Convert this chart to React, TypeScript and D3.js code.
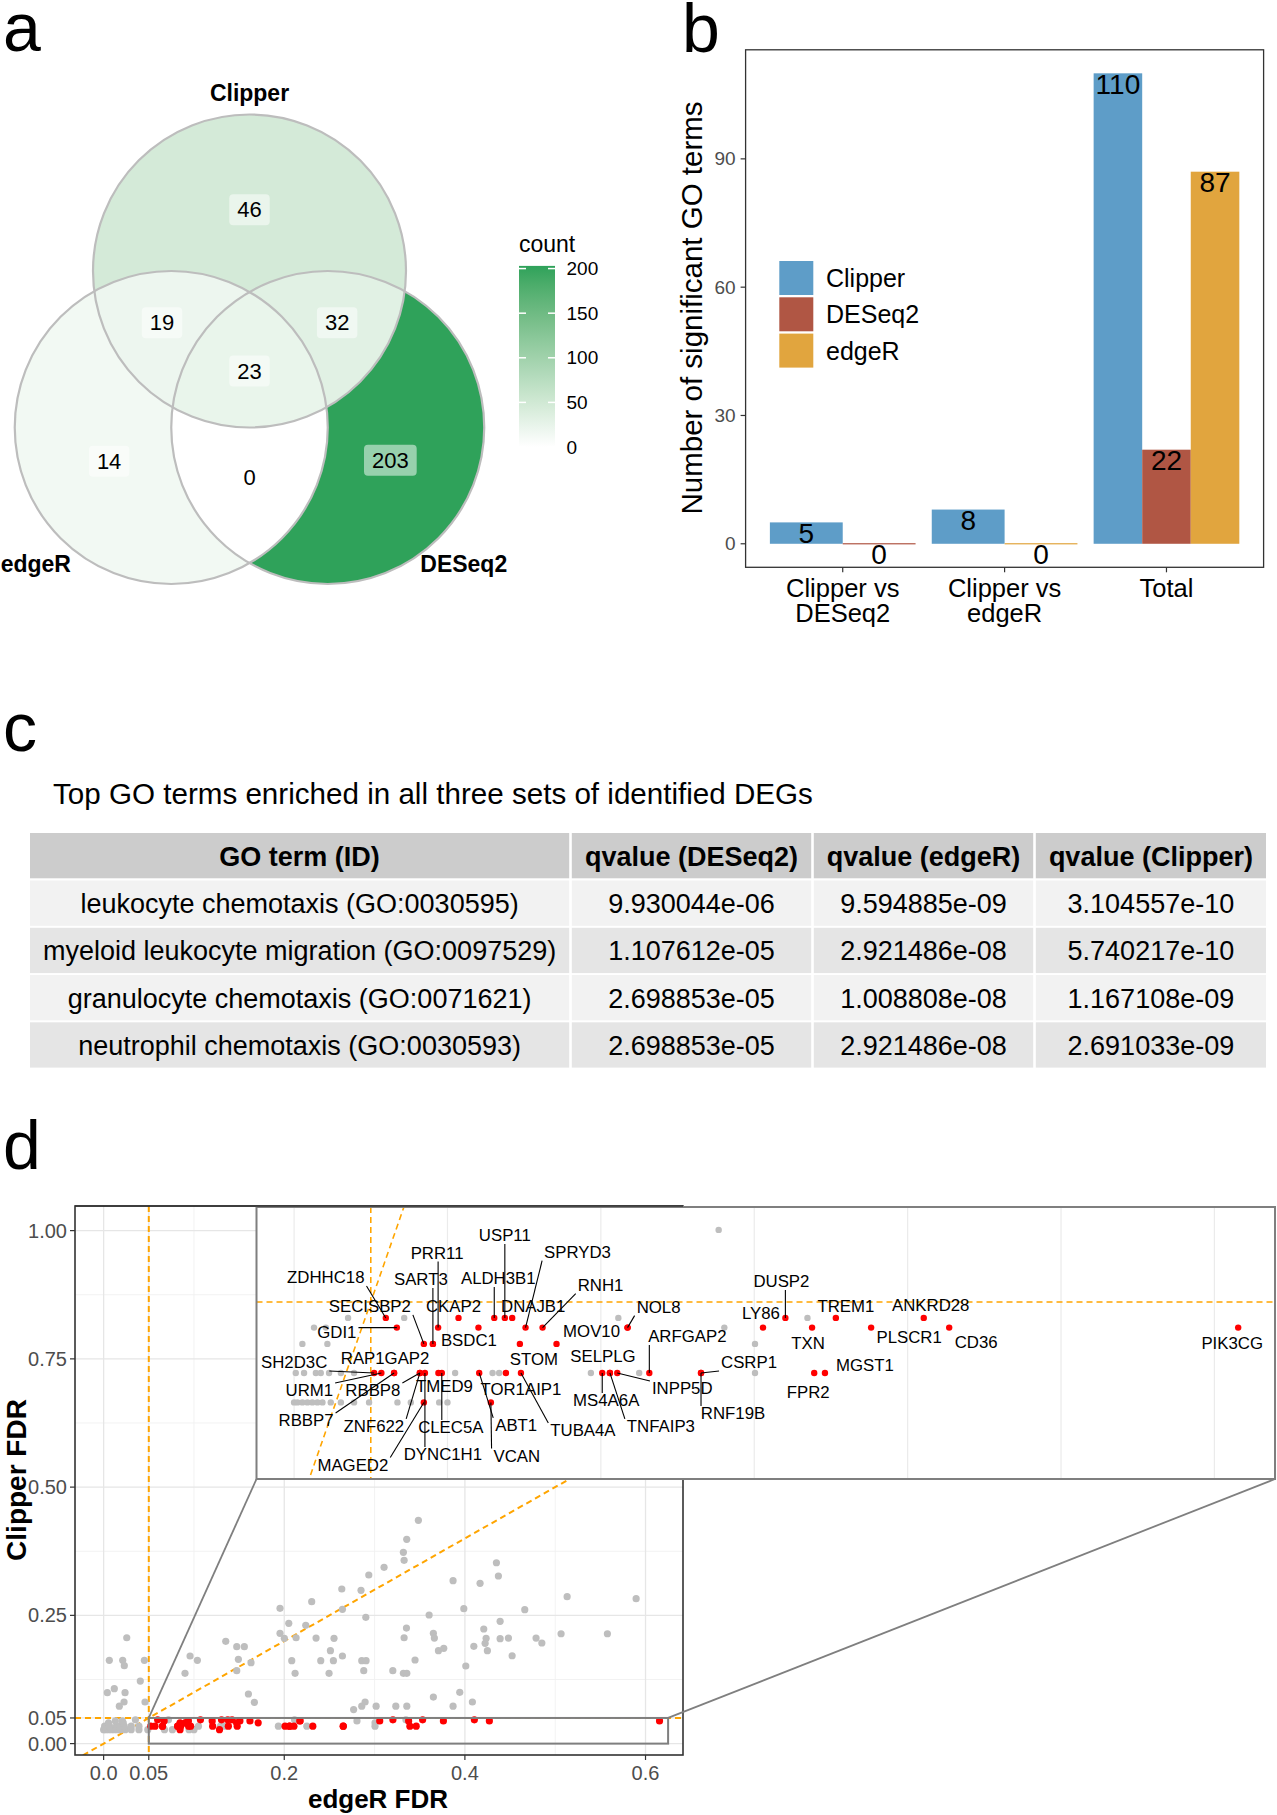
import React from "react";
import * as d3 from "d3";

const FONT = "'Liberation Sans', Arial, Helvetica, sans-serif";

// ================= Panel a : Venn diagram =================
const vennSets = ["Clipper", "edgeR", "DESeq2"];
const vennRegionMembers: string[][] = [
  ["Clipper"], ["edgeR"], ["DESeq2"],
  ["Clipper", "edgeR"], ["Clipper", "DESeq2"], ["edgeR", "DESeq2"],
  ["Clipper", "edgeR", "DESeq2"],
];
const vennRegionCounts = [46, 14, 203, 19, 32, 0, 23];
const countLegendTicks = [0, 50, 100, 150, 200];

// ================= Panel b : bar chart =================
const goCategories = ["Clipper vs\nDESeq2", "Clipper vs\nedgeR", "Total"];
const goMethods = ["Clipper", "DESeq2", "edgeR"];
const goClipper: (number | null)[] = [5, 8, 110];
const goDESeq2: (number | null)[] = [0, null, 22];
const goEdgeR: (number | null)[] = [null, 0, 87];
const goYTicks = [0, 30, 60, 90];

// ================= Panel c : table =================
const tableTitle = "Top GO terms enriched in all three sets of identified DEGs";
const tableHeader = ["GO term (ID)", "qvalue (DESeq2)", "qvalue (edgeR)", "qvalue (Clipper)"];
const goTermNames = [
  "leukocyte chemotaxis (GO:0030595)",
  "myeloid leukocyte migration (GO:0097529)",
  "granulocyte chemotaxis (GO:0071621)",
  "neutrophil chemotaxis (GO:0030593)",
];
const qDESeq2 = ["9.930044e-06", "1.107612e-05", "2.698853e-05", "2.698853e-05"];
const qEdgeR = ["9.594885e-09", "2.921486e-08", "1.008808e-08", "2.921486e-08"];
const qClipper = ["3.104557e-10", "5.740217e-10", "1.167108e-09", "2.691033e-09"];

// ================= Panel d : scatter =================
const xTickValues = [0, 0.05, 0.2, 0.4, 0.6];
const xTickLabels = ["0.0", "0.05", "0.2", "0.4", "0.6"];
const yTickValues = [0, 0.05, 0.25, 0.5, 0.75, 1.0];
const yTickLabels = ["0.00", "0.05", "0.25", "0.50", "0.75", "1.00"];
const fdrCutoff = 0.05;

// [edgeR FDR, Clipper FDR] of genes not significant
const otherGenes: [number, number][] = [
  [0.3485, 0.4353], [0.3356, 0.3982], [0.3319, 0.3729], [0.3327, 0.3573], [0.3105, 0.3437],
  [0.2936, 0.3287], [0.2637, 0.3014], [0.2850, 0.2988], [0.4349, 0.3526], [0.4371, 0.3267],
  [0.3869, 0.3176], [0.4168, 0.3124], [0.5132, 0.2864], [0.5896, 0.2825], [0.1953, 0.2637],
  [0.2304, 0.2766], [0.2644, 0.2618], [0.3988, 0.2630], [0.4663, 0.2610], [0.2903, 0.2462],
  [0.3604, 0.2507], [0.2050, 0.2345], [0.2238, 0.2306], [0.3353, 0.2253], [0.4209, 0.2234],
  [0.4390, 0.2384], [0.1953, 0.2150], [0.2001, 0.2053], [0.2131, 0.2064], [0.2352, 0.2058],
  [0.2551, 0.2053], [0.3327, 0.2064], [0.3651, 0.2150], [0.3662, 0.2058], [0.4235, 0.2053],
  [0.4224, 0.1955], [0.4390, 0.2045], [0.4482, 0.2058], [0.4788, 0.2058], [0.4852, 0.1961],
  [0.5065, 0.2142], [0.5578, 0.2142], [0.1474, 0.1889], [0.1558, 0.1889], [0.1492, 0.1643],
  [0.1632, 0.1577], [0.1474, 0.1421], [0.2083, 0.1616], [0.2120, 0.1370], [0.2404, 0.1616],
  [0.2511, 0.1811], [0.2544, 0.1616], [0.2644, 0.1708], [0.2496, 0.1370], [0.2858, 0.1616],
  [0.2906, 0.1616], [0.2880, 0.1421], [0.3202, 0.1421], [0.3319, 0.1370], [0.3357, 0.1370],
  [0.3448, 0.1630], [0.3707, 0.1811], [0.3766, 0.1858], [0.4099, 0.1897], [0.4249, 0.1811],
  [0.4523, 0.1713], [0.4010, 0.1513], [0.1603, 0.0967], [0.1669, 0.0805], [0.2768, 0.0664],
  [0.2858, 0.0730], [0.2895, 0.0811], [0.3017, 0.0730], [0.3235, 0.0730], [0.3357, 0.0730],
  [0.3651, 0.0908], [0.3869, 0.0730], [0.3943, 0.1000], [0.4083, 0.0811], [0.0256, 0.2064],
  [0.0063, 0.1624], [0.0211, 0.1624], [0.0229, 0.1519], [0.0451, 0.1624], [0.0406, 0.1220],
  [0.0118, 0.1070], [0.0041, 0.0992], [0.0237, 0.0992], [0.0226, 0.0811], [0.0174, 0.0730],
  [0.0458, 0.0811], [0.0901, 0.1370], [0.0957, 0.1708], [0.1038, 0.1624], [0.1352, 0.1994],
  [0.0000, 0.0272], [0.0022, 0.0272], [0.0054, 0.0272], [0.0087, 0.0272], [0.0119, 0.0272],
  [0.0152, 0.0272], [0.0185, 0.0272], [0.0239, 0.0272], [0.0305, 0.0272], [0.0391, 0.0272],
  [0.0489, 0.0272], [0.0674, 0.0272], [0.0761, 0.0272], [0.0946, 0.0272], [0.1000, 0.0272],
  [0.0011, 0.0339], [0.0065, 0.0339], [0.0142, 0.0339], [0.0174, 0.0339], [0.0228, 0.0339],
  [0.0305, 0.0339], [0.0391, 0.0339], [0.1050, 0.0339], [0.1294, 0.0339], [0.1337, 0.0339],
  [0.1935, 0.0339], [0.2250, 0.0339], [0.3005, 0.0339],
  [0.0054, 0.0405], [0.0217, 0.0405], [0.3005, 0.0405],
  [0.0130, 0.0442], [0.0207, 0.0442], [0.2805, 0.0442],
  [0.0352, 0.0464], [0.0718, 0.0464], [0.2114, 0.0464], [0.3347, 0.0464],
];

const sigGenes = [
  "ZDHHC18", "CKAP2", "ALDH3B1", "USP11", "DNAJB1", "DUSP2", "TREM1", "ANKRD28",
  "GDI1", "PRR11", "", "SPRYD3", "RNH1", "NOL8", "MOV10", "LY86", "TXN", "PLSCR1", "CD36", "PIK3CG",
  "SECISBP2", "SART3", "BSDC1", "STOM", "",
  "SH2D3C", "URM1", "RAP1GAP2", "RBBP7", "RBBP8", "ZNF622", "DYNC1H1", "TMED9", "CLEC5A", "ABT1",
  "TOR1AIP1", "TUBA4A", "MS4A6A", "SELPLG", "TNFAIP3", "INPP5D", "ARFGAP2", "CSRP1", "RNF19B", "FPR2", "MGST1",
  "MAGED2", "VCAN",
];
const sigEdgeR = [
  0.0598, 0.1072, 0.1305, 0.1374, 0.1422, 0.3203, 0.3532, 0.4105,
  0.0670, 0.0939, 0.1202, 0.1509, 0.1620, 0.2174, 0.2174, 0.3057, 0.3377, 0.3762, 0.4271, 0.6155,
  0.0846, 0.0905, 0.0905, 0.1472, 0.1711,
  0.0522, 0.0569, 0.0652, 0.0652, 0.0820, 0.0820, 0.0853, 0.0941, 0.0963, 0.1207,
  0.1381, 0.1479, 0.2009, 0.2059, 0.2059, 0.2107, 0.2316, 0.2653, 0.2653, 0.3391, 0.3461,
  0.0846, 0.1283,
];
const sigClipper = [
  0.0464, 0.0464, 0.0464, 0.0464, 0.0464, 0.0464, 0.0464, 0.0464,
  0.0442, 0.0442, 0.0442, 0.0442, 0.0442, 0.0442, 0.0442, 0.0442, 0.0442, 0.0442, 0.0442, 0.0442,
  0.0405, 0.0405, 0.0405, 0.0405, 0.0405,
  0.0339, 0.0339, 0.0339, 0.0339, 0.0339, 0.0339, 0.0339, 0.0339, 0.0339, 0.0339,
  0.0339, 0.0339, 0.0339, 0.0339, 0.0339, 0.0339, 0.0339, 0.0339, 0.0339, 0.0339, 0.0339,
  0.0272, 0.0272,
];

// ---- layout (not data): label placement offsets in px, segment flag ----
const insetLabelLayout: [string, number, number, number][] = [
  ["USP11", 0, -82, 1], ["PRR11", -1, -74, 1], ["SPRYD3", 52, -75, 1], ["ZDHHC18", -60, -40, 1],
  ["SART3", -12, -64, 1], ["ALDH3B1", 4, -39, 1], ["RNH1", 58, -42, 1], ["DUSP2", -4, -36, 1],
  ["SECISBP2", -54, -37, 1], ["CKAP2", -5, -11, 0], ["DNAJB1", 21, -11, 0], ["NOL8", 31, -20, 1],
  ["TREM1", 10, -11, 0], ["ANKRD28", 7, -12, 0], ["LY86", -2, -14, 0], ["GDI1", -60, 5, 1],
  ["MOV10", -36, 4, 0], ["BSDC1", 36, -3, 0], ["ARFGAP2", 38, -36, 1], ["TXN", -4, 16, 0],
  ["PLSCR1", 38, 10, 0], ["CD36", 27, 15, 0], ["PIK3CG", -6, 16, 0], ["SH2D3C", -80, -10, 1],
  ["RAP1GAP2", -9, -14, 0], ["STOM", 14, 16, 0], ["SELPLG", -7, -16, 0], ["CSRP1", 48, -10, 1],
  ["MGST1", 40, -7, 0], ["URM1", -72, 18, 1], ["RBBP8", -47, 18, 1], ["TMED9", 6, 14, 0],
  ["TOR1AIP1", 15, 17, 0], ["INPP5D", 65, 16, 1], ["MS4A6A", 4, 28, 1], ["RNF19B", 32, 41, 1],
  ["FPR2", -6, 20, 0], ["RBBP7", -88, 48, 1], ["ZNF622", -46, 54, 1], ["CLEC5A", 9, 55, 1],
  ["ABT1", 37, 53, 1], ["TUBA4A", 62, 58, 1], ["TNFAIP3", 51, 54, 1], ["DYNC1H1", 18, 82, 1],
  ["VCAN", 26, 54, 1], ["MAGED2", -71, 63, 1],
];

let _canvas: HTMLCanvasElement | null = null;
function measure(text: string, font: string): number {
  if (typeof document === "undefined") return text.length * 9;
  if (!_canvas) _canvas = document.createElement("canvas");
  const ctx = _canvas.getContext("2d")!;
  ctx.font = font;
  return ctx.measureText(text).width;
}

// ================= Panel a component =================
function VennPanel() {
  const unit = 156.5;
  const vx = d3.scaleLinear().domain([0, 1]).range([249.5, 249.5 + unit]);
  const vy = d3.scaleLinear().domain([0, 1]).range([427.5, 427.5 - unit]);
  const centers: Record<string, [number, number]> = { Clipper: [0, 1], edgeR: [-0.5, 0], DESeq2: [0.5, 0] };
  const maxCount = d3.max(vennRegionCounts) as number;
  const fill = d3.scaleLinear<string>().domain([0, maxCount]).range(["#ffffff", "#2fa25a"]).interpolate(d3.interpolateLab);
  const labelAt = [[0, 1.392], [-0.897, -0.216], [0.9, -0.21], [-0.559, 0.67], [0.56, 0.67], [0, -0.321], [0, 0.361]];
  const legY = d3.scaleLinear().domain([0, maxCount]).range([447, 265.9]);
  const legX = 519, legW = 36;
  const numFont = 22;
  return (
    <g>
      <defs>
        {vennSets.map((s) => (
          <clipPath id={`vclip-${s}`} key={s}>
            <circle cx={vx(centers[s][0])} cy={vy(centers[s][1])} r={unit} />
          </clipPath>
        ))}
        {vennRegionMembers.map((mem, i) => {
          const out = vennSets.filter((s) => !mem.includes(s));
          return (
            <mask id={`vmask-${i}`} key={i} maskUnits="userSpaceOnUse" x={0} y={0} width={640} height={640}>
              <rect x={0} y={0} width={640} height={640} fill="white" />
              {out.map((s) => (
                <circle key={s} cx={vx(centers[s][0])} cy={vy(centers[s][1])} r={unit} fill="black" />
              ))}
            </mask>
          );
        })}
        <linearGradient id="countGrad" x1="0" y1="1" x2="0" y2="0">
          {d3.range(0, 11).map((k) => (
            <stop key={k} offset={k / 10} stopColor={fill((k / 10) * maxCount)} />
          ))}
        </linearGradient>
      </defs>
      {vennRegionMembers.map((mem, i) => {
        let node: any = (
          <rect x={0} y={0} width={640} height={640} fill={fill(vennRegionCounts[i])} mask={`url(#vmask-${i})`} />
        );
        mem.forEach((s) => {
          node = <g clipPath={`url(#vclip-${s})`}>{node}</g>;
        });
        return <g key={i}>{node}</g>;
      })}
      {vennSets.map((s) => (
        <circle key={s} cx={vx(centers[s][0])} cy={vy(centers[s][1])} r={unit} fill="none" stroke="#bdbdbd" strokeWidth={2.2} />
      ))}
      {vennRegionCounts.map((c, i) => {
        const t = String(c);
        const tw = measure(t, `${numFont}px ${FONT}`);
        const w = tw + 16, h = 31;
        const cx = vx(labelAt[i][0]), cy = vy(labelAt[i][1]);
        return (
          <g key={i}>
            <rect x={cx - w / 2} y={cy - h / 2} width={w} height={h} rx={4} fill="#ffffff" fillOpacity={0.5} />
            <text x={cx} y={cy} textAnchor="middle" dominantBaseline="central" fontSize={numFont}>{t}</text>
          </g>
        );
      })}
      <text x={vx(0)} y={vy(2.084)} textAnchor="middle" fontSize={23} fontWeight="bold">Clipper</text>
      <text x={vx(-1.59)} y={vy(-0.923)} textAnchor="start" fontSize={23} fontWeight="bold">edgeR</text>
      <text x={vx(1.369)} y={vy(-0.923)} textAnchor="middle" fontSize={23} fontWeight="bold">DESeq2</text>
      {/* legend */}
      <text x={legX} y={252} fontSize={23}>count</text>
      <rect x={legX} y={legY(maxCount)} width={legW} height={legY(0) - legY(maxCount)} fill="url(#countGrad)" />
      {countLegendTicks.map((t) => (
        <g key={t}>
          <line x1={legX} x2={legX + 7} y1={legY(t)} y2={legY(t)} stroke="#ffffff" strokeWidth={1.5} />
          <line x1={legX + legW - 7} x2={legX + legW} y1={legY(t)} y2={legY(t)} stroke="#ffffff" strokeWidth={1.5} />
          <text x={566.5} y={legY(t)} dominantBaseline="central" fontSize={19}>{t}</text>
        </g>
      ))}
    </g>
  );
}

// ================= Panel b component =================
function BarPanel() {
  const left = 745.6, right = 1263.6, top = 49.8, bottom = 567.3;
  const x = d3.scalePoint<string>().domain(goCategories).range([left, right]).padding(0.6);
  const step = x.step();
  const y = d3.scaleLinear().domain([-5.5, 115.5]).range([bottom, top]);
  const series: Record<string, (number | null)[]> = { Clipper: goClipper, DESeq2: goDESeq2, edgeR: goEdgeR };
  const colors: Record<string, string> = { Clipper: "#5E9DC8", DESeq2: "#B05644", edgeR: "#E1A53E" };
  const bars: { m: string; v: number; x0: number; bw: number }[] = [];
  goCategories.forEach((cat, i) => {
    const present = goMethods.filter((m) => series[m][i] != null);
    const gw = step * 0.9;
    const bw = gw / present.length;
    present.forEach((m, j) => {
      bars.push({ m, v: series[m][i] as number, x0: (x(cat) as number) - gw / 2 + j * bw, bw });
    });
  });
  const legendY = [278, 314.3, 350.6];
  return (
    <g>
      {bars.map((b, i) => {
        const h = y(0) - y(b.v);
        return h > 0.5 ? (
          <rect key={i} x={b.x0} y={y(b.v)} width={b.bw} height={h} fill={colors[b.m]} />
        ) : (
          <rect key={i} x={b.x0} y={y(0) - 0.6} width={b.bw} height={1.2} fill={colors[b.m]} />
        );
      })}
      {bars.map((b, i) => (
        <text key={"t" + i} x={b.x0 + b.bw / 2} y={y(b.v) + 20.5} textAnchor="middle" fontSize={28}>{b.v}</text>
      ))}
      <rect x={left} y={top} width={right - left} height={bottom - top} fill="none" stroke="#333333" strokeWidth={1.3} />
      {goYTicks.map((t) => (
        <g key={t}>
          <line x1={left - 5} x2={left} y1={y(t)} y2={y(t)} stroke="#333333" strokeWidth={1.2} />
          <text x={left - 10} y={y(t)} textAnchor="end" dominantBaseline="central" fontSize={19} fill="#4d4d4d">{t}</text>
        </g>
      ))}
      {goCategories.map((c) => (
        <g key={c}>
          <line x1={x(c)} x2={x(c)} y1={bottom} y2={bottom + 5} stroke="#333333" strokeWidth={1.2} />
          {c.split("\n").map((ln, k) => (
            <text key={k} x={x(c)} y={597 + k * 25} textAnchor="middle" fontSize={25.5}>{ln}</text>
          ))}
        </g>
      ))}
      <text transform="translate(702,308) rotate(-90)" textAnchor="middle" fontSize={29.5}>Number of significant GO terms</text>
      {goMethods.map((m, i) => (
        <g key={m}>
          <rect x={779.3} y={legendY[i] - 17} width={34} height={34} fill={colors[m]} />
          <text x={826} y={legendY[i]} dominantBaseline="central" fontSize={25}>{m}</text>
        </g>
      ))}
    </g>
  );
}

// ================= Panel c component =================
function TablePanel() {
  const colX = [30, 570.5, 812.5, 1034.5, 1266];
  const rowY = [833, 880.5, 927.8, 975, 1022.3];
  const rowH = 45.3;
  const body = goTermNames.map((g, i) => [g, qDESeq2[i], qEdgeR[i], qClipper[i]]);
  const rows = [tableHeader, ...body];
  const fills = ["#cccccc", "#f2f2f2", "#e5e5e5", "#f2f2f2", "#e5e5e5"];
  return (
    <g>
      <text x={53} y={804} fontSize={29.6}>{tableTitle}</text>
      {rows.map((r, ri) =>
        r.map((cell, ci) => {
          const x0 = colX[ci] + (ci > 0 ? 1.3 : 0);
          const x1 = colX[ci + 1] - (ci < 3 ? 1.3 : 0);
          return (
            <g key={ri + "-" + ci}>
              <rect x={x0} y={rowY[ri]} width={x1 - x0} height={rowH} fill={fills[ri]} />
              <text x={(x0 + x1) / 2} y={rowY[ri] + rowH / 2 + 1} textAnchor="middle" dominantBaseline="central"
                fontSize={27} fontWeight={ri === 0 ? "bold" : "normal"}>{cell}</text>
            </g>
          );
        })
      )}
    </g>
  );
}

// ================= Panel d component =================
function ScatterPanel() {
  const P = { l: 75, r: 683, t: 1206, b: 1755 };
  const I = { l: 256.5, r: 1275, t: 1207, b: 1479 };
  const mx = d3.scaleLinear().domain([-0.0317, 0.6415]).range([P.l, P.r]);
  const my = d3.scaleLinear().domain([-0.0222, 1.048]).range([P.b, P.t]);
  const ix = d3.scaleLinear().domain([-0.0245, 0.6395]).range([I.l, I.r]);
  const iy = d3.scaleLinear().domain([0.0098, 0.0716]).range([I.b, I.t]);
  const line = d3.line();
  const orange = "#FFA500";
  const majorX = xTickValues, minorX = [0.1, 0.3, 0.5];
  const majorY = yTickValues, minorY = [0.125, 0.375, 0.625, 0.875];
  const insetGrid = d3.range(0, 0.61, 0.1);
  const sig = sigGenes.map((g, i) => ({ g, v: sigEdgeR[i], c: sigClipper[i] }));
  const labFont = 16.8;
  const labels = insetLabelLayout.map(([g, dx, dy, seg]) => {
    const p = sig.find((s) => s.g === g)!;
    const px = ix(p.v), py = iy(p.c);
    const tx = px + dx, ty = py + dy;
    const w = measure(g, `${labFont}px ${FONT}`);
    const bx0 = tx - w / 2 - 2, bx1 = tx + w / 2 + 2, by0 = ty - 8, by1 = ty + 8;
    const sx = Math.max(bx0, Math.min(bx1, px)), sy = Math.max(by0, Math.min(by1, py));
    return { g, px, py, tx, ty, seg, sx, sy };
  });
  const zoomLo = 0.05, zoomHi = 0.625;
  return (
    <g>
      <defs>
        <clipPath id="mainClip"><rect x={P.l} y={P.t} width={P.r - P.l} height={P.b - P.t} /></clipPath>
        <clipPath id="insetClip"><rect x={I.l} y={I.t} width={I.r - I.l} height={I.b - I.t} /></clipPath>
      </defs>
      {/* main panel */}
      <rect x={P.l} y={P.t} width={P.r - P.l} height={P.b - P.t} fill="#ffffff" />
      <g clipPath="url(#mainClip)">
        {minorX.map((v) => <line key={"mx" + v} x1={mx(v)} x2={mx(v)} y1={P.t} y2={P.b} stroke="#f0f0f0" strokeWidth={0.9} />)}
        {minorY.map((v) => <line key={"my" + v} x1={P.l} x2={P.r} y1={my(v)} y2={my(v)} stroke="#f0f0f0" strokeWidth={0.9} />)}
        {majorX.map((v) => <line key={"Mx" + v} x1={mx(v)} x2={mx(v)} y1={P.t} y2={P.b} stroke="#e6e6e6" strokeWidth={1.3} />)}
        {majorY.map((v) => <line key={"My" + v} x1={P.l} x2={P.r} y1={my(v)} y2={my(v)} stroke="#e6e6e6" strokeWidth={1.3} />)}
        <line x1={mx(fdrCutoff)} x2={mx(fdrCutoff)} y1={P.t} y2={P.b} stroke={orange} strokeWidth={2} strokeDasharray="6,4" />
        <line x1={P.l} x2={P.r} y1={my(fdrCutoff)} y2={my(fdrCutoff)} stroke={orange} strokeWidth={2} strokeDasharray="6,4" />
        <path d={line([[mx(-0.1), my(-0.1)], [mx(1.1), my(1.1)]])!} stroke={orange} strokeWidth={2} strokeDasharray="6,4" fill="none" />
        {otherGenes.map(([v, c], i) => <circle key={"o" + i} cx={mx(v)} cy={my(c)} r={3.6} fill="#bebebe" />)}
        {sig.map((s, i) => <circle key={"s" + i} cx={mx(s.v)} cy={my(s.c)} r={3.6} fill="#ff0000" />)}
        <rect x={mx(zoomLo)} y={my(fdrCutoff)} width={mx(zoomHi) - mx(zoomLo)} height={my(0) - my(fdrCutoff)} fill="none" stroke="#7f7f7f" strokeWidth={2} />
      </g>
      <rect x={P.l} y={P.t} width={P.r - P.l} height={P.b - P.t} fill="none" stroke="#333333" strokeWidth={1.6} />
      {xTickValues.map((v, i) => (
        <g key={"xt" + i}>
          <line x1={mx(v)} x2={mx(v)} y1={P.b} y2={P.b + 5} stroke="#333333" strokeWidth={1.2} />
          <text x={mx(v)} y={1780} textAnchor="middle" fontSize={20} fill="#4d4d4d">{xTickLabels[i]}</text>
        </g>
      ))}
      {yTickValues.map((v, i) => (
        <g key={"yt" + i}>
          <line x1={P.l - 5} x2={P.l} y1={my(v)} y2={my(v)} stroke="#333333" strokeWidth={1.2} />
          <text x={P.l - 8} y={my(v)} textAnchor="end" dominantBaseline="central" fontSize={20} fill="#4d4d4d">{yTickLabels[i]}</text>
        </g>
      ))}
      <text x={378} y={1808} textAnchor="middle" fontSize={26} fontWeight="bold">edgeR FDR</text>
      <text transform="translate(26,1480) rotate(-90)" textAnchor="middle" fontSize={28} fontWeight="bold">Clipper FDR</text>
      {/* connectors */}
      <line x1={mx(zoomLo)} y1={my(fdrCutoff)} x2={I.l} y2={I.b} stroke="#7f7f7f" strokeWidth={1.8} />
      <line x1={mx(zoomHi)} y1={my(fdrCutoff)} x2={I.r} y2={I.b} stroke="#7f7f7f" strokeWidth={1.8} />
      {/* inset */}
      <rect x={I.l} y={I.t} width={I.r - I.l} height={I.b - I.t} fill="#ffffff" />
      <g clipPath="url(#insetClip)">
        {insetGrid.map((v, i) => <line key={"ig" + i} x1={ix(v)} x2={ix(v)} y1={I.t} y2={I.b} stroke="#ebebeb" strokeWidth={1.2} />)}
        <line x1={ix(fdrCutoff)} x2={ix(fdrCutoff)} y1={I.t} y2={I.b} stroke={orange} strokeWidth={1.6} strokeDasharray="6,4" />
        <line x1={I.l} x2={I.r} y1={iy(fdrCutoff)} y2={iy(fdrCutoff)} stroke={orange} strokeWidth={1.6} strokeDasharray="6,4" />
        <path d={line([[ix(0), iy(0)], [ix(0.1), iy(0.1)]])!} stroke={orange} strokeWidth={1.6} strokeDasharray="6,4" fill="none" />
        {otherGenes.map(([v, c], i) => <circle key={"io" + i} cx={ix(v)} cy={iy(c)} r={3.2} fill="#bebebe" />)}
        {sig.map((s, i) => <circle key={"is" + i} cx={ix(s.v)} cy={iy(s.c)} r={3.2} fill="#ff0000" />)}
        {labels.filter((l) => l.seg).map((l) => (
          <line key={"sg" + l.g} x1={l.px} y1={l.py} x2={l.sx} y2={l.sy} stroke="#000000" strokeWidth={1.1} />
        ))}
        {labels.map((l) => (
          <text key={"lb" + l.g} x={l.tx} y={l.ty} textAnchor="middle" dominantBaseline="central" fontSize={labFont}>{l.g}</text>
        ))}
      </g>
      <rect x={I.l} y={I.t} width={I.r - I.l} height={I.b - I.t} fill="none" stroke="#7f7f7f" strokeWidth={2} />
      <line x1={P.l} x2={P.r} y1={P.t} y2={P.t} stroke="#333333" strokeWidth={1.6} />
    </g>
  );
}

export default function App() {
  const W = 1277, H = 1815;
  return (
    <div style={{ position: "absolute", left: 0, top: 0, width: W, height: H, background: "#ffffff", overflow: "hidden" }}>
      <svg width={W} height={H} viewBox={`0 0 ${W} ${H}`} style={{ display: "block", fontFamily: FONT }}>
        <rect x={0} y={0} width={W} height={H} fill="#ffffff" />
        <text x={3} y={51} fontSize={68}>a</text>
        <text x={682} y={52} fontSize={68}>b</text>
        <text x={3} y={751} fontSize={68}>c</text>
        <text x={3} y={1169} fontSize={68}>d</text>
        <VennPanel />
        <BarPanel />
        <TablePanel />
        <ScatterPanel />
      </svg>
    </div>
  );
}
